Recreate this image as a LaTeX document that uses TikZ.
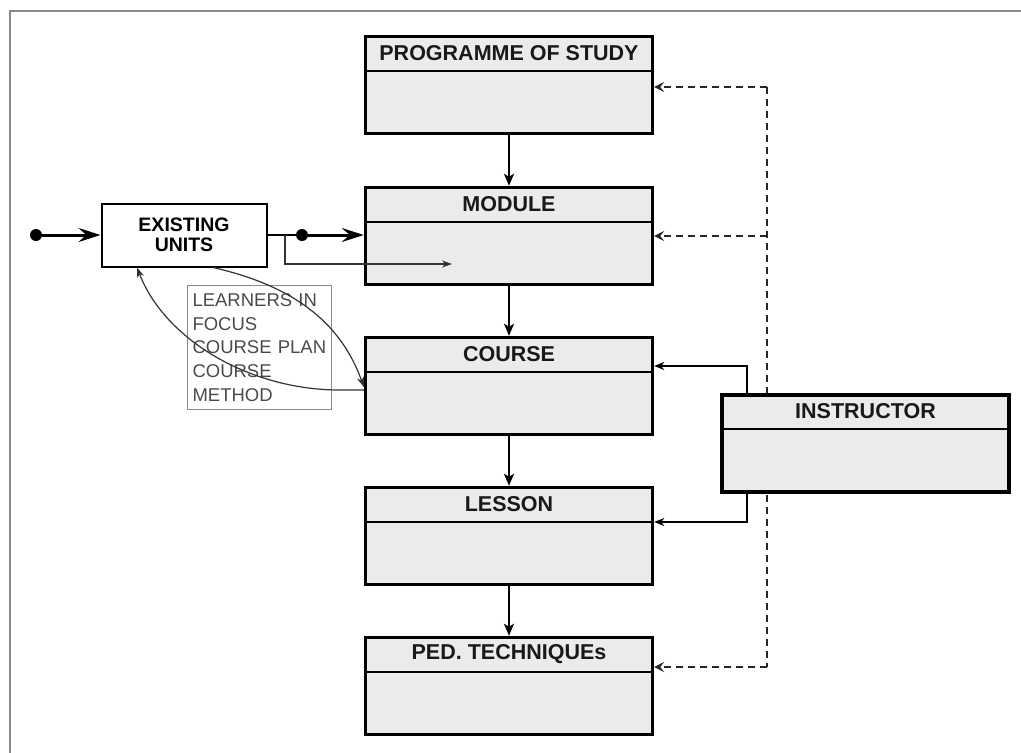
\documentclass[tikz,border=0pt]{standalone}
\usepackage{fontspec}
\setmainfont{Liberation Sans}
\usetikzlibrary{arrows.meta}
\definecolor{boxfill}{HTML}{EBEBEB}
\definecolor{framegray}{HTML}{8A8A8A}
\definecolor{notegray}{HTML}{4A4A4A}

\tikzset{
  unit/.style={draw=black, line width=3.4pt, fill=boxfill, minimum width=287pt,
    minimum height=97pt, inner sep=0pt},
  title/.style={font=\fontsize{21.5}{24}\selectfont\bfseries, text=black!90},
  divider/.style={line width=1.8pt},
  flow/.style={line width=2.3pt, -{Stealth[length=12pt,width=10pt,inset=3pt]}},
  feed/.style={line width=2.3pt, dash pattern=on 7pt off 5pt, draw=black!85},
  feedtip/.style={feed, -{Stealth[length=10pt,width=10pt,inset=4pt]}},
  link/.style={line width=1.7pt, -{Stealth[length=10pt,width=8pt,inset=3pt]}},
  thinarrow/.style={line width=1.2pt, draw=black!80,
    -{Stealth[length=10pt,width=7pt,inset=3pt]}},
  boldarrow/.style={line width=3pt, -{Stealth[length=22pt,width=14pt,inset=8pt]}},
  dot/.style={circle, fill=black, inner sep=0pt, minimum size=12pt},
}

% a stage of the plan: box with a title strip
\newcommand\stagebox[4]{%
  \node[unit] (#1) at (#2,#3) {};
  \draw[divider] ([yshift=-36pt]#1.north west) -- ([yshift=-36pt]#1.north east);
  \node[title] (#1-t) at ([yshift=-18pt]#1.north) {#4};
}

\begin{document}
\begin{tikzpicture}[x=1pt,y=-1pt]
\useasboundingbox (0,0) rectangle (1021,753);

% outer frame (top and left edges)
\draw[framegray, line width=2.5pt] (10,753) -- (10,11) -- (1021,11);

% dashed feedback line from the instructor
\coordinate (d1) at (767,87);
\coordinate (d2) at (767,236);
\coordinate (d3) at (767,667);
\draw[feed] (d1) -- (d3);

% stages
\stagebox{prog}{509}{85}{PROGRAMME OF STUDY}
\stagebox{module}{509}{236}{MODULE}
\stagebox{course}{509}{386}{COURSE}
\stagebox{lesson}{509}{536}{LESSON}
\stagebox{ped}{509}{686}{PED. TECHNIQUEs}
\stagebox{instr}{865.5}{443.5}{INSTRUCTOR}

\draw[feedtip] (d1) -- (prog.east |- d1);
\draw[feedtip] (d2) -- (module.east |- d2);
\draw[feedtip] (d3) -- (ped.east |- d3);

% downward flow
\draw[flow] (prog) -- (module);
\draw[flow] (module) -- (course);
\draw[flow] (course) -- (lesson);
\draw[flow] (lesson) -- (ped);

% instructor links
\coordinate (i1) at (747,366);
\coordinate (i2) at (747,522);
\draw[link] (instr.north -| i1) -- (i1) -- (course.east |- i1);
\draw[link] (instr.south -| i2) -- (i2) -- (lesson.east |- i2);

% existing units
\node[draw, line width=2pt, fill=white, minimum width=165pt, minimum height=63pt,
  align=center, font=\fontsize{19.5}{20}\selectfont\bfseries] (existing) at (184,235)
  {EXISTING\\UNITS};
\node[dot] (s1) at (36,235) {};
\node[dot] (s2) at (302,235) {};
\draw[boldarrow] (s1) -- (existing.west |- s1);
\draw[line width=2pt] (existing.east |- s2) -- (s2);
\draw[boldarrow] (s2) -- (module.west |- s2);
\coordinate (b1) at (285,235);
\coordinate (b2) at (452,264);
\draw[thinarrow] (b1) |- (b2);

% learner focus note
\node[draw=framegray, line width=1pt, anchor=north west, minimum width=144pt,
  minimum height=124pt, text width=134pt, inner xsep=5pt, align=left,
  font=\fontsize{18.5}{23.7}\selectfont, text=notegray] (focus) at (187,285)
  {LEARNERS IN\\FOCUS\\COURSE PLAN\\COURSE\\METHOD};

\draw[thinarrow] ([yshift=-4pt]course.west) -- ++(-24,0)
  .. controls (250,390) and (165,340) .. ([xshift=-47pt]existing.south);
\draw[thinarrow] ([xshift=29pt]existing.south)
  .. controls (290,285) and (340,320) .. ([yshift=-1pt]course.west);
\end{tikzpicture}
\end{document}
